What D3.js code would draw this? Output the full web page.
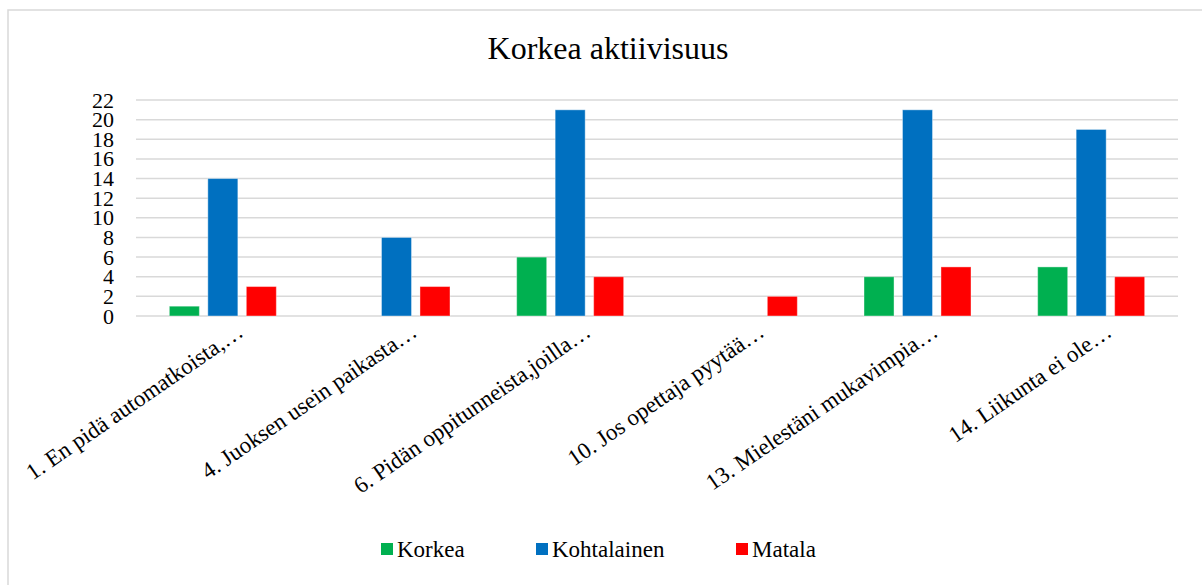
<!DOCTYPE html>
<html>
<head>
<meta charset="utf-8">
<script src="https://cdn.jsdelivr.net/npm/d3@7"></script>
<style>
  body { margin: 0; background: #fff; }
  text { font-family: "Liberation Serif", "Times New Roman", serif; fill: #000; }
</style>
</head>
<body>
<svg id="chart" width="1202" height="585"></svg>
<script>
var categories = [
  "1. En pidä automatkoista,…",
  "4. Juoksen usein paikasta…",
  "6. Pidän oppitunneista,joilla…",
  "10. Jos opettaja pyytää…",
  "13. Mielestäni mukavimpia…",
  "14. Liikunta ei ole…"
];
var keys = ["Korkea", "Kohtalainen", "Matala"];
var korkea = [1, 0, 6, 0, 4, 5];
var kohtalainen = [14, 8, 21, 0, 21, 19];
var matala = [3, 3, 4, 2, 5, 4];
var yTicks = [0, 2, 4, 6, 8, 10, 12, 14, 16, 18, 20, 22];
var colors = ["#00B050", "#0070C0", "#FF0000"];

var serif = "'Liberation Serif', 'Times New Roman', serif";

var series = [korkea, kohtalainen, matala];
var data = categories.map(function(c, i) {
  return { cat: c, values: keys.map(function(k, j) { return { key: k, value: series[j][i] }; }) };
});

var svg = d3.select("#chart"),
    margin = {top: 100, left: 136},
    width = 1042,
    height = 216,
    g = svg.append("g").attr("transform", "translate(" + margin.left + "," + margin.top + ")");

// chart frame
svg.append("rect")
    .attr("x", 8).attr("y", 10)
    .attr("width", 1210).attr("height", 600)
    .attr("fill", "none")
    .attr("stroke", "#d9d9d9")
    .attr("stroke-width", 1.5);

svg.append("text")
    .attr("x", 608)
    .attr("y", 59)
    .attr("text-anchor", "middle")
    .style("font-family", serif)
    .style("font-size", "32px")
    .text("Korkea aktiivisuus");

var x0 = d3.scaleBand().domain(categories).range([0, width]);
var bw = x0.bandwidth();
var x1 = d3.scaleBand().domain(keys).range([bw / 2 - 53.5, bw / 2 + 53.5]).paddingInner(0.22);
var y = d3.scaleLinear().domain([0, 22]).range([height, 0]);
var z = d3.scaleOrdinal().domain(keys).range(colors);

// gridlines
g.append("g")
  .selectAll("line")
  .data(yTicks)
  .enter().append("line")
    .attr("x1", 0)
    .attr("x2", width)
    .attr("y1", function(d) { return y(d); })
    .attr("y2", function(d) { return y(d); })
    .attr("stroke", "#d9d9d9")
    .attr("stroke-width", 1.5);

var yAxis = g.append("g")
    .call(d3.axisLeft(y).tickValues(yTicks).tickSize(0).tickPadding(22));
yAxis.select(".domain").remove();
yAxis.selectAll("text")
    .style("font-family", serif)
    .style("font-size", "22px")
    .attr("fill", "#000");

g.append("g")
  .selectAll("g")
  .data(data)
  .enter().append("g")
    .attr("transform", function(d) { return "translate(" + x0(d.cat) + ",0)"; })
  .selectAll("rect")
  .data(function(d) { return d.values; })
  .enter().append("rect")
    .attr("x", function(d) { return x1(d.key); })
    .attr("y", function(d) { return y(d.value); })
    .attr("width", x1.bandwidth())
    .attr("height", function(d) { return y(0) - y(d.value); })
    .attr("fill", function(d) { return z(d.key); })
    .attr("stroke", "#fff")
    .attr("stroke-opacity", 0.4)
    .attr("stroke-width", 1);

// category labels
g.append("g")
  .selectAll("text")
  .data(categories)
  .enter().append("text")
    .attr("transform", function(d) {
      return "translate(" + (x0(d) + bw / 2 + 22) + "," + (height + 19) + ") rotate(-34.5)";
    })
    .attr("text-anchor", "end")
    .style("font-family", serif)
    .style("font-size", "23px")
    .text(function(d) { return d; });

// legend
var legendX = [381, 536, 736];
var legend = svg.append("g")
  .selectAll("g")
  .data(keys)
  .enter().append("g")
    .attr("transform", function(d, i) { return "translate(" + legendX[i] + ",543)"; });

legend.append("rect")
    .attr("width", 12)
    .attr("height", 12)
    .attr("fill", z);

legend.append("text")
    .attr("x", 16)
    .attr("y", 14)
    .style("font-family", serif)
    .style("font-size", "23px")
    .text(function(d) { return d; });
</script>
</body>
</html>
